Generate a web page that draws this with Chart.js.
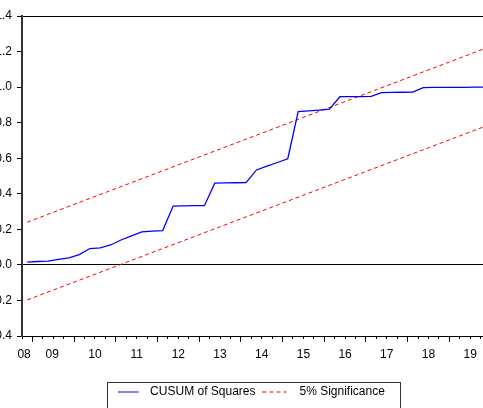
<!DOCTYPE html>
<html><head><meta charset="utf-8">
<script src="https://cdn.jsdelivr.net/npm/chart.js@4/dist/chart.umd.min.js"></script>
<style>
html,body{margin:0;padding:0;width:483px;height:408px;overflow:hidden;background:#fff;}
#wrap{position:absolute;left:-10px;top:0;}
</style></head><body>
<div id="wrap"><canvas id="c" width="521" height="408"></canvas></div>
<script>
// Quarterly observations 2008Q4 .. 2019Q4
const quarters = ['2008Q4',
 '2009Q1','2009Q2','2009Q3','2009Q4','2010Q1','2010Q2','2010Q3','2010Q4',
 '2011Q1','2011Q2','2011Q3','2011Q4','2012Q1','2012Q2','2012Q3','2012Q4',
 '2013Q1','2013Q2','2013Q3','2013Q4','2014Q1','2014Q2','2014Q3','2014Q4',
 '2015Q1','2015Q2','2015Q3','2015Q4','2016Q1','2016Q2','2016Q3','2016Q4',
 '2017Q1','2017Q2','2017Q3','2017Q4','2018Q1','2018Q2','2018Q3','2018Q4',
 '2019Q1','2019Q2','2019Q3','2019Q4'];
const cusumSq = [0.016,
 0.019,0.021,0.031,0.039, 0.058,0.092,0.096,0.112,
 0.140,0.163,0.186,0.190, 0.193,0.331,0.332,0.333,
 0.333,0.460,0.461,0.462, 0.463,0.534,0.555,0.576,
 0.597,0.862,0.866,0.871, 0.876,0.946,0.947,0.947,
 0.948,0.969,0.970,0.971, 0.972,0.997,0.998,0.998,
 0.999,0.999,1.000,1.000];
// 5% significance bounds (straight lines), read at first and last observation
const boundObs = [0, 44];
const upper5 = [0.240, 1.219];
const lower5 = [-0.197, 0.781];
// axis labels
const yearLabels = ['08','09','10','11','12','13','14','15','16','17','18','19'];
const yearLabelPos = [-0.3, 2.4, 6.5, 10.5, 14.5, 18.5, 22.5, 26.5, 30.5, 34.5, 38.5, 42.5];
const yTicks = [-0.4,-0.2,0.0,0.2,0.4,0.6,0.8,1.0,1.2,1.4];
const yearBounds = [0.5,4.5,8.5,12.5,16.5,20.5,24.5,28.5,32.5,36.5,40.5,44.5];

const xMin = -0.5, xMax = quarters.length - 0.5;
const quarterBounds = [];
for (let b = xMin; b <= xMax + 1e-9; b += 1) quarterBounds.push(b);

Chart.defaults.font.family = "'Liberation Sans', Arial, Helvetica, sans-serif";
Chart.defaults.font.size = 12;
Chart.defaults.color = '#000';

// small legend sample images (line segment followed by blank space)
function sample(color, lineLen, totalW, dash) {
  const c = document.createElement('canvas');
  c.width = totalW; c.height = 3;
  const g = c.getContext('2d');
  g.strokeStyle = color; g.lineWidth = 1;
  g.setLineDash(dash);
  g.beginPath(); g.moveTo(0, 1.5); g.lineTo(lineLen, 1.5); g.stroke();
  return c;
}
const blueSample = sample('#0000ff', 21, 25, []);
const redSample = sample('#ff0000', 24, 34, [4, 3]);

const fixedTicks = arr => scale => { scale.ticks = arr.map(v => ({value: v})); };
const zeroHeight = scale => { scale.height = 0; };

const legendFrame = {
  id: 'legendFrame',
  afterDraw(chart) {
    const lg = chart.legend;
    if (!lg || !lg.legendHitBoxes || !lg.legendHitBoxes.length) return;
    const hb = lg.legendHitBoxes;
    const l = Math.min(...hb.map(h => h.left)) - 9;
    const r = Math.max(...hb.map(h => h.left + h.width)) + 15;
    const cy = hb[0].top + hb[0].height / 2;
    const t = cy - 10.5;
    const ctx = chart.ctx;
    ctx.save();
    ctx.strokeStyle = '#333';
    ctx.lineWidth = 1;
    ctx.strokeRect(Math.round(l) + 0.5, Math.round(t) + 0.5, Math.round(r - l), chart.height);
    ctx.restore();
  }
};

const tickAxis = (arr, len, weight) => ({
  type: 'linear', position: 'bottom', min: xMin, max: xMax, weight: weight,
  afterBuildTicks: fixedTicks(arr), afterFit: zeroHeight,
  ticks: {display: false},
  grid: {display: true, drawOnChartArea: false, drawTicks: true, tickLength: len, tickColor: '#000', tickWidth: 1},
  border: {display: false}
});

new Chart(document.getElementById('c'), {
  type: 'line',
  data: {
    datasets: [
      {label: 'CUSUM of Squares', data: cusumSq.map((v, i) => ({x: i, y: v})),
       borderColor: '#0000ff', backgroundColor: '#0000ff', borderWidth: 1.3, pointRadius: 0,
       pointStyle: blueSample, tension: 0, fill: false},
      {label: '5% Significance', data: boundObs.map((x, k) => ({x: x, y: upper5[k]})),
       borderColor: '#ff0000', backgroundColor: '#ff0000', borderWidth: 1, borderDash: [4, 3], pointRadius: 0,
       pointStyle: redSample, fill: false},
      {label: '5% Significance lower', data: boundObs.map((x, k) => ({x: x, y: lower5[k]})),
       borderColor: '#ff0000', backgroundColor: '#ff0000', borderWidth: 1, borderDash: [4, 3], pointRadius: 0,
       pointStyle: redSample, fill: false}
    ]
  },
  options: {
    responsive: false, animation: false, devicePixelRatio: 1,
    layout: {padding: {top: 16, left: 0, right: 0, bottom: 0}},
    plugins: {
      legend: {
        position: 'bottom', fullSize: true,
        labels: {usePointStyle: true, pointStyleWidth: 28, padding: 10,
                 color: '#000', font: {size: 12},
                 filter: item => item.datasetIndex < 2}
      },
      tooltip: {enabled: false}
    },
    scales: {
      x: {
        type: 'linear', position: 'bottom', min: xMin, max: xMax, weight: 2,
        afterBuildTicks: fixedTicks(yearLabelPos),
        afterFit: s => { s.height = 40; },
        ticks: {autoSkip: false, maxRotation: 0, minRotation: 0, padding: 5,
                callback: (v, i) => yearLabels[i], color: '#000'},
        grid: {display: true, drawOnChartArea: false, drawTicks: true, tickLength: 6, tickColor: 'rgba(0,0,0,0)'},
        border: {display: true, color: '#000', width: 1}
      },
      xq: tickAxis(quarterBounds, 3, 0),
      xy: tickAxis(yearBounds, 6, 1),
      xTop: {
        type: 'linear', position: 'top', min: xMin, max: xMax,
        afterFit: zeroHeight, ticks: {display: false},
        grid: {display: false}, border: {display: true, color: '#000', width: 1}
      },
      y: {
        type: 'linear', position: 'left', min: -0.4, max: 1.4,
        afterBuildTicks: fixedTicks(yTicks),
        afterFit: s => { s.width = 32; },
        ticks: {padding: 5, callback: v => v.toFixed(1), color: '#000'},
        grid: {drawOnChartArea: true, drawTicks: true, tickLength: 5, tickColor: '#000', lineWidth: 1,
               color: c => (c.tick && Math.abs(c.tick.value) < 1e-9) ? '#000' : 'rgba(0,0,0,0)'},
        border: {display: true, color: '#333', width: 2}
      },
      yPad: {
        type: 'linear', position: 'right', min: 0, max: 1,
        afterFit: s => { s.width = 20; },
        ticks: {display: false}, grid: {display: false}, border: {display: false}
      }
    }
  },
  plugins: [legendFrame]
});
</script>
</body></html>
